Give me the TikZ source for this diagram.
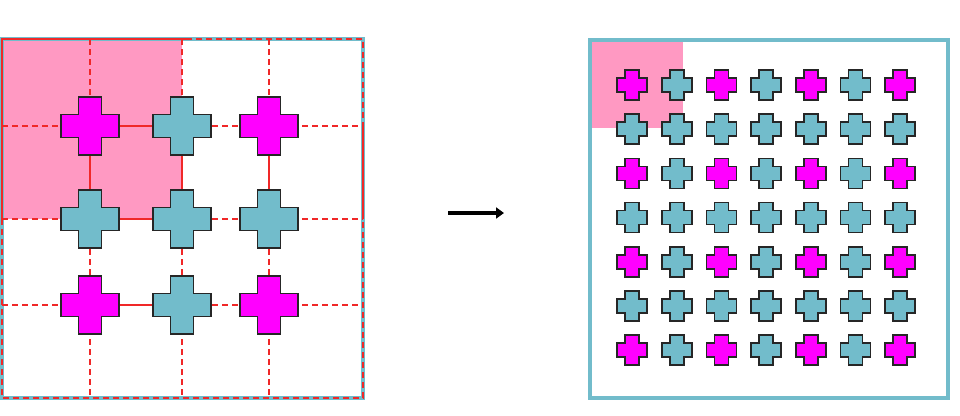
\documentclass[tikz,border=0pt]{standalone}
\usetikzlibrary{arrows.meta}
\definecolor{mag}{HTML}{FF00FF}
\definecolor{cb}{HTML}{72BCCB}
\definecolor{pk}{HTML}{FF99C2}
\definecolor{rl}{HTML}{F02828}
\newcommand\plusshape[6]{% x y half halfthick color linewidth
\fill[#5,draw=black!85,line width=#6,line join=miter] (#1-#4,#2-#3) -- (#1+#4,#2-#3) -- (#1+#4,#2-#4) -- (#1+#3,#2-#4) -- (#1+#3,#2+#4) -- (#1+#4,#2+#4) -- (#1+#4,#2+#3) -- (#1-#4,#2+#3) -- (#1-#4,#2+#4) -- (#1-#3,#2+#4) -- (#1-#3,#2-#4) -- (#1-#4,#2-#4) -- cycle;}
\tikzset{grd/.style={rl,line width=1.6pt,dash pattern=on 6pt off 4pt},sol/.style={rl,line width=1.6pt}}
\begin{document}
\begin{tikzpicture}[x=1pt,y=-1pt]
\useasboundingbox (0,0) rectangle (960,415);
% left panel
\fill[pk] (2,39) rectangle (182,219);
\draw[cb,line width=4pt] (2,39) rectangle (363,398);
\draw[grd] (2,39) rectangle (363,398);
\foreach \x in {90,182,269} \draw[grd] (\x,39) -- (\x,398);
\foreach \y in {126,219,305} \draw[grd] (2,\y) -- (363,\y);
\draw[sol] (2,219) -- (2,39) -- (190,39);
\draw[sol] (90,126) rectangle (182,219);
\draw[sol] (269,126) -- (269,219);
\draw[sol] (363,126) -- (363,219);
\draw[sol] (90,305) -- (182,305);
\foreach \x/\i in {90/0,182/1,269/2}{
  \foreach \y/\j in {126/0,219/1,305/2}{
    \pgfmathparse{(mod(\i,2)==0 && mod(\j,2)==0) ? 1 : 0}
    \ifnum\pgfmathresult>0 \plusshape{\x}{\y}{29}{11.5}{mag}{1.8pt}\else\plusshape{\x}{\y}{29}{11.5}{cb}{1.8pt}\fi
  }}
% arrow
\draw[line width=3.5pt,-{Triangle[length=8pt,width=11pt]}] (448,213) -- (504,213);
% right panel
\fill[pk] (592,42) rectangle (683,128);
\draw[cb,line width=4pt] (590,40) rectangle (948,398);
\foreach \i in {0,...,6}{
  \foreach \j in {0,...,6}{
    \pgfmathsetmacro\cx{632+44.7*\i}
    \pgfmathsetmacro\cy{85+44.2*\j}
    \pgfmathparse{(mod(\i,2)==0 && mod(\j,2)==0) ? 1 : 0}
    \ifnum\pgfmathresult>0 \plusshape{\cx}{\cy}{15}{7}{mag}{1.6pt}\else\plusshape{\cx}{\cy}{15}{7}{cb}{1.6pt}\fi
  }}
\end{tikzpicture}
\end{document}
